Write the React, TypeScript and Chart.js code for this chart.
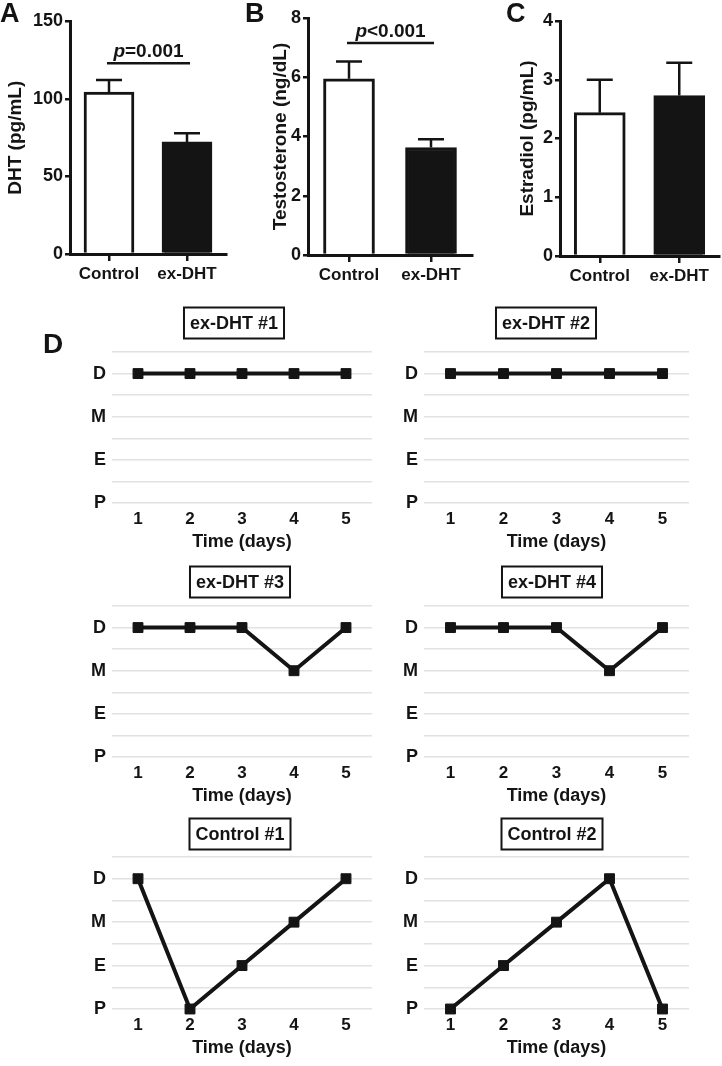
import React, { useEffect, useRef } from 'react';
import { Chart, registerables } from 'chart.js';

Chart.register(...registerables);

// ---------- DATA ----------
const GROUPS = ['Control', 'ex-DHT'];

const DHT_MEAN = [104.5, 72.3];
const DHT_SEM = [7.7, 5.6];

const TESTO_MEAN = [5.95, 3.63];
const TESTO_SEM = [0.58, 0.28];

const E2_MEAN = [2.44, 2.73];
const E2_SEM = [0.56, 0.56];

const DHT_TICKS = [0, 50, 100, 150];
const TESTO_TICKS = [0, 2, 4, 6, 8];
const E2_TICKS = [0, 1, 2, 3, 4];

const DAYS = ['1', '2', '3', '4', '5'];
const STAGES = ['P', 'E', 'M', 'D']; // 0..3

const EX_DHT_1 = [3, 3, 3, 3, 3];
const EX_DHT_2 = [3, 3, 3, 3, 3];
const EX_DHT_3 = [3, 3, 3, 2, 3];
const EX_DHT_4 = [3, 3, 3, 2, 3];
const CONTROL_1 = [3, 0, 1, 2, 3];
const CONTROL_2 = [0, 1, 2, 3, 0];

// ---------- STYLE ----------
const FONT = '"Liberation Sans", Arial, Helvetica, sans-serif';
const INK = '#141414';

type Cfg = () => any;

function ChartCanvas({ left, top, width, height, config }: { left: number; top: number; width: number; height: number; config: Cfg }) {
  const ref = useRef<HTMLCanvasElement>(null);
  useEffect(() => {
    const chart = new Chart(ref.current as HTMLCanvasElement, config());
    return () => chart.destroy();
  }, []);
  return (
    <canvas
      ref={ref}
      width={width}
      height={height}
      style={{ position: 'absolute', left, top, width, height, display: 'block' }}
    />
  );
}

function letterPlugin(letter: string, x: number, y: number, size: number) {
  return {
    id: 'letter',
    afterDraw(chart: any) {
      const ctx = chart.ctx;
      ctx.save();
      ctx.font = `bold ${size}px ${FONT}`;
      ctx.fillStyle = INK;
      ctx.textAlign = 'left';
      ctx.textBaseline = 'alphabetic';
      ctx.fillText(letter, x, y);
      ctx.restore();
    },
  };
}

interface BarPanel {
  mean: number[];
  sem: number[];
  ticks: number[];
  title: string;
  padLeft: number;
  yW: number;
  padRight: number;
  padTop: number;
  xH: number;
  thickness: number;
  letter: string;
  letterX: number;
  pLine?: number;
  pRest?: string;
}

function barConfig(p: BarPanel) {
  const errPlugin = {
    id: 'errbars',
    afterDatasetsDraw(chart: any) {
      const ctx = chart.ctx;
      const y = chart.scales.y;
      const meta = chart.getDatasetMeta(0);
      ctx.save();
      ctx.strokeStyle = INK;
      ctx.lineWidth = 2.5;
      ctx.lineCap = 'butt';
      meta.data.forEach((bar: any, i: number) => {
        const top = y.getPixelForValue(p.mean[i] + p.sem[i]);
        ctx.beginPath();
        ctx.moveTo(bar.x, bar.y);
        ctx.lineTo(bar.x, top);
        ctx.moveTo(bar.x - 13, top);
        ctx.lineTo(bar.x + 13, top);
        ctx.stroke();
      });
      if (p.pLine !== undefined && p.pRest) {
        const ly = y.getPixelForValue(p.pLine);
        const x0 = meta.data[0].x - 2;
        const x1 = meta.data[1].x + 3;
        ctx.lineWidth = 2.5;
        ctx.beginPath();
        ctx.moveTo(x0, ly);
        ctx.lineTo(x1, ly);
        ctx.stroke();
        const fi = `italic bold 19px ${FONT}`;
        const fb = `bold 19px ${FONT}`;
        ctx.font = fi;
        const w1 = ctx.measureText('p').width;
        ctx.font = fb;
        const w2 = ctx.measureText(p.pRest).width;
        const cx = (x0 + x1) / 2;
        const sx = cx - (w1 + w2) / 2;
        ctx.fillStyle = INK;
        ctx.textBaseline = 'alphabetic';
        ctx.textAlign = 'left';
        ctx.font = fi;
        ctx.fillText('p', sx, ly - 6);
        ctx.font = fb;
        ctx.fillText(p.pRest, sx + w1, ly - 6);
      }
      ctx.restore();
    },
  };
  return {
    type: 'bar',
    data: {
      labels: GROUPS,
      datasets: [
        {
          data: p.mean,
          backgroundColor: ['#ffffff', INK],
          borderColor: INK,
          borderWidth: 3,
          barThickness: p.thickness,
        },
      ],
    },
    options: {
      responsive: false,
      animation: false,
      devicePixelRatio: 1,
      layout: { padding: { left: p.padLeft, top: p.padTop, right: p.padRight, bottom: 0 } },
      plugins: { legend: { display: false }, tooltip: { enabled: false } },
      scales: {
        x: {
          offset: true,
          grid: { display: true, drawOnChartArea: false, drawTicks: true, tickLength: 7, offset: false, color: INK, lineWidth: 2.5 },
          border: { display: true, color: INK, width: 3 },
          ticks: { color: INK, font: { family: FONT, size: 17, weight: 'bold' }, padding: 3, maxRotation: 0 },
          afterFit: (s: any) => { s.height = p.xH; },
        },
        y: {
          min: p.ticks[0],
          max: p.ticks[p.ticks.length - 1],
          afterBuildTicks: (s: any) => { s.ticks = p.ticks.map((v) => ({ value: v })); },
          grid: { display: true, drawOnChartArea: false, drawTicks: true, tickLength: 5, color: INK, lineWidth: 2.5 },
          border: { display: true, color: INK, width: 3 },
          ticks: { color: INK, font: { family: FONT, size: 18, weight: 'bold' }, padding: 2 },
          title: { display: true, text: p.title, color: INK, font: { family: FONT, size: 19, weight: 'bold' }, padding: { top: 4, bottom: 0 } },
          afterFit: (s: any) => { s.width = p.yW; },
        },
      },
    },
    plugins: [errPlugin, letterPlugin(p.letter, p.letterX, 22, 27)],
  };
}

interface LinePanel {
  title: string;
  values: number[];
  yW: number;
  padRight: number;
  boxX: number; // relative to canvas
  boxY: number; // relative to canvas
  letter?: string;
}

function lineConfig(p: LinePanel) {
  const boxPlugin = {
    id: 'titlebox',
    afterDraw(chart: any) {
      const ctx = chart.ctx;
      ctx.save();
      ctx.font = `bold 18px ${FONT}`;
      const w = ctx.measureText(p.title).width + 12;
      const h = 31;
      ctx.strokeStyle = INK;
      ctx.lineWidth = 2;
      ctx.strokeRect(p.boxX - w / 2, p.boxY - h / 2, w, h);
      ctx.fillStyle = INK;
      ctx.textAlign = 'center';
      ctx.textBaseline = 'middle';
      ctx.fillText(p.title, p.boxX, p.boxY + 1);
      ctx.restore();
    },
  };
  const plugins: any[] = [boxPlugin];
  if (p.letter) plugins.push(letterPlugin(p.letter, 43, 51, 28));
  return {
    type: 'line',
    data: {
      labels: DAYS,
      datasets: [
        {
          data: p.values,
          borderColor: INK,
          borderWidth: 4,
          backgroundColor: INK,
          pointStyle: 'rect',
          pointRadius: 7,
          pointBorderWidth: 1,
          pointBackgroundColor: INK,
          pointBorderColor: INK,
          fill: false,
          tension: 0,
          clip: false,
        },
      ],
    },
    options: {
      responsive: false,
      animation: false,
      devicePixelRatio: 1,
      layout: { padding: { left: 0, top: 50, right: p.padRight, bottom: 0 } },
      plugins: { legend: { display: false }, tooltip: { enabled: false } },
      scales: {
        x: {
          type: 'category',
          offset: true,
          grid: { display: false, drawTicks: false },
          border: { display: false },
          ticks: { color: INK, font: { family: FONT, size: 17, weight: 'bold' }, padding: 6, maxRotation: 0 },
          title: { display: true, text: 'Time (days)', color: INK, font: { family: FONT, size: 18, weight: 'bold' }, padding: { top: 0, bottom: 2 } },
          afterFit: (s: any) => { s.height = 52; },
        },
        y: {
          min: 0,
          max: 3.5,
          ticks: {
            stepSize: 0.5,
            autoSkip: false,
            color: INK,
            font: { family: FONT, size: 18, weight: 'bold' },
            padding: 6,
            callback: (v: number) => (Number.isInteger(v) && STAGES[v] !== undefined ? STAGES[v] : ''),
          },
          grid: { display: true, drawTicks: false, color: '#e2e2e2', lineWidth: 1.5 },
          border: { display: false },
          afterFit: (s: any) => { s.width = p.yW; },
        },
      },
    },
    plugins,
  };
}

const BAR_A: BarPanel = { mean: DHT_MEAN, sem: DHT_SEM, ticks: DHT_TICKS, title: 'DHT (pg/mL)', padLeft: 0, yW: 70, padRight: 14, padTop: 21.5, xH: 36, thickness: 50, letter: 'A', letterX: 0, pLine: 123, pRest: '=0.001' };
const BAR_B: BarPanel = { mean: TESTO_MEAN, sem: TESTO_SEM, ticks: TESTO_TICKS, title: 'Testosterone (ng/dL)', padLeft: 25, yW: 43, padRight: 8, padTop: 18, xH: 35, thickness: 51, letter: 'B', letterX: 5, pLine: 7.16, pRest: '<0.001' };
const BAR_C: BarPanel = { mean: E2_MEAN, sem: E2_SEM, ticks: E2_TICKS, title: 'Estradiol (pg/mL)', padLeft: 32, yW: 48, padRight: 3, padTop: 21, xH: 34, thickness: 51, letter: 'C', letterX: 26 };

const ROW_TOPS = [302, 556, 807];
const ROW_CHART_H = [151, 151, 152];
const LEFT = { left: 0, width: 380, yW: 112, padRight: 4 };
const RIGHT = { left: 380, width: 342, yW: 44, padRight: 33 };

const LINE_PANELS = [
  { row: 0, side: LEFT, title: 'ex-DHT #1', values: EX_DHT_1, boxX: 234, boxY: 323, letter: 'D' },
  { row: 0, side: RIGHT, title: 'ex-DHT #2', values: EX_DHT_2, boxX: 546, boxY: 323 },
  { row: 1, side: LEFT, title: 'ex-DHT #3', values: EX_DHT_3, boxX: 240, boxY: 582 },
  { row: 1, side: RIGHT, title: 'ex-DHT #4', values: EX_DHT_4, boxX: 552, boxY: 582 },
  { row: 2, side: LEFT, title: 'Control #1', values: CONTROL_1, boxX: 240, boxY: 834 },
  { row: 2, side: RIGHT, title: 'Control #2', values: CONTROL_2, boxX: 552, boxY: 834 },
];

export default function App() {
  return (
    <div style={{ position: 'absolute', left: 0, top: 0, width: 722, height: 1066, background: '#fff', overflow: 'hidden' }}>
      <ChartCanvas left={0} top={0} width={240} height={290} config={() => barConfig(BAR_A)} />
      <ChartCanvas left={240} top={0} width={240} height={290} config={() => barConfig(BAR_B)} />
      <ChartCanvas left={480} top={0} width={242} height={290} config={() => barConfig(BAR_C)} />
      {LINE_PANELS.map((lp, i) => {
        const top = ROW_TOPS[lp.row];
        const height = 50 + ROW_CHART_H[lp.row] + 52;
        return (
          <ChartCanvas
            key={i}
            left={lp.side.left}
            top={top}
            width={lp.side.width}
            height={height}
            config={() =>
              lineConfig({
                title: lp.title,
                values: lp.values,
                yW: lp.side.yW,
                padRight: lp.side.padRight,
                boxX: lp.boxX - lp.side.left,
                boxY: lp.boxY - top,
                letter: (lp as any).letter,
              })
            }
          />
        );
      })}
    </div>
  );
}
